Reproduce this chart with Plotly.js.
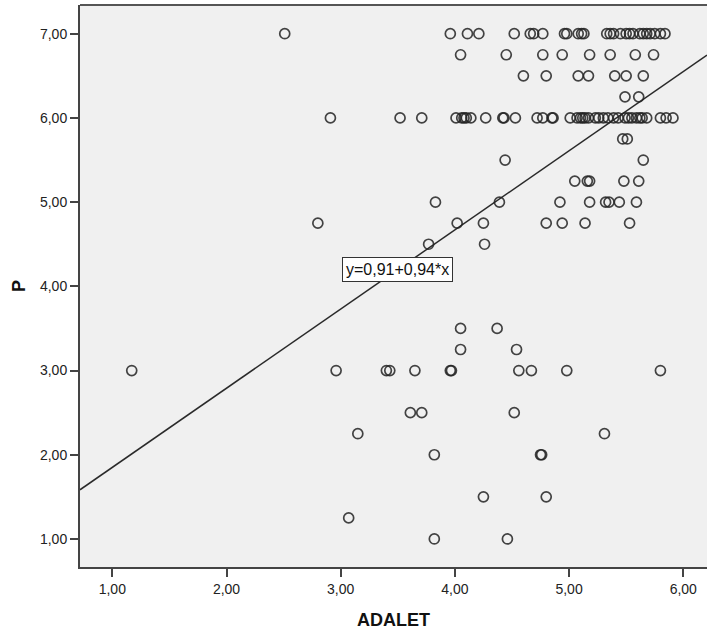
<!DOCTYPE html>
<html>
<head>
<meta charset="utf-8">
<script src="https://cdn.plot.ly/plotly-3.0.1.min.js"></script>
<style>html,body{margin:0;padding:0;background:#fff;overflow:hidden}#chart{width:707px;height:633px}</style>
</head>
<body>
<div id="chart"></div>
<script>
// ADALET values observed at each P level
const pLevels = [7.00, 6.75, 6.50, 6.25, 6.00, 5.75, 5.50, 5.25, 5.00, 4.75, 4.50, 3.50, 3.25, 3.00, 2.50, 2.25, 2.00, 1.50, 1.25, 1.00];
const adaletP700 = [2.51, 3.96, 4.11, 4.21, 4.52, 4.66, 4.69, 4.77, 4.96, 4.98, 5.08, 5.11, 5.13, 5.33, 5.36, 5.39, 5.45, 5.50, 5.53, 5.56, 5.62, 5.65, 5.68, 5.71, 5.75, 5.80, 5.84];
const adaletP675 = [4.05, 4.45, 4.77, 4.94, 5.18, 5.36, 5.58, 5.74];
const adaletP650 = [4.60, 4.80, 5.08, 5.17, 5.40, 5.50, 5.65];
const adaletP625 = [5.49, 5.61];
const adaletP600 = [2.91, 3.52, 3.71, 4.01, 4.06, 4.08, 4.10, 4.14, 4.27, 4.42, 4.43, 4.53, 4.72, 4.77, 4.85, 4.86, 5.01, 5.07, 5.10, 5.12, 5.14, 5.17, 5.23, 5.26, 5.30, 5.34, 5.39, 5.43, 5.49, 5.52, 5.55, 5.59, 5.62, 5.64, 5.68, 5.80, 5.85, 5.91];
const adaletP575 = [5.47, 5.51];
const adaletP550 = [4.44, 5.65];
const adaletP525 = [5.05, 5.16, 5.18, 5.48, 5.61];
const adaletP500 = [3.83, 4.39, 4.92, 5.18, 5.32, 5.35, 5.44, 5.59];
const adaletP475 = [2.80, 4.02, 4.25, 4.80, 4.94, 5.14, 5.53];
const adaletP450 = [3.77, 4.26];
const adaletP350 = [4.05, 4.37];
const adaletP325 = [4.05, 4.54];
const adaletP300 = [1.17, 2.96, 3.40, 3.43, 3.65, 3.96, 3.97, 4.56, 4.67, 4.98, 5.80];
const adaletP250 = [3.61, 3.71, 4.52];
const adaletP225 = [3.15, 5.31];
const adaletP200 = [3.82, 4.75, 4.76];
const adaletP150 = [4.25, 4.80];
const adaletP125 = [3.07];
const adaletP100 = [3.82, 4.46];
const adaletByLevel = [adaletP700, adaletP675, adaletP650, adaletP625, adaletP600, adaletP575, adaletP550, adaletP525, adaletP500, adaletP475, adaletP450, adaletP350, adaletP325, adaletP300, adaletP250, adaletP225, adaletP200, adaletP150, adaletP125, adaletP100];

// Fit line
const intercept = 0.91;
const slope = 0.94;
const fitLabel = "y=0,91+0,94*x";

// Tick labels
const xTickVals = [1, 2, 3, 4, 5, 6];
const xTickText = ["1,00", "2,00", "3,00", "4,00", "5,00", "6,00"];
const yTickVals = [1, 2, 3, 4, 5, 6, 7];
const yTickText = ["1,00", "2,00", "3,00", "4,00", "5,00", "6,00", "7,00"];

const xRange = [0.717, 6.208];
const yRange = [0.667, 7.341];

const xs = [], ys = [];
adaletByLevel.forEach((arr, i) => arr.forEach(v => { xs.push(v); ys.push(pLevels[i]); }));

const lineX = [xRange[0], xRange[1]];
const lineY = lineX.map(x => intercept + slope * x);

const font = '"Liberation Sans", Arial, sans-serif';
const axisColor = '#444';

const traces = [
  {x: lineX, y: lineY, mode: 'lines', type: 'scatter', line: {color: '#2a2a2a', width: 1.5}, hoverinfo: 'skip', showlegend: false},
  {x: xs, y: ys, mode: 'markers', type: 'scatter', showlegend: false,
   marker: {symbol: 'circle-open', size: 10, color: 'rgba(35,35,35,0.85)', line: {width: 1.7, color: 'rgba(35,35,35,0.85)'}}}
];

const layout = {
  width: 707, height: 633,
  margin: {l: 80, r: 0, t: 5, b: 66},
  paper_bgcolor: '#ffffff',
  plot_bgcolor: '#f0f0f0',
  showlegend: false,
  font: {family: font, color: '#222'},
  xaxis: {
    range: xRange, tickvals: xTickVals, ticktext: xTickText,
    showgrid: false, zeroline: false, showline: true, linecolor: axisColor, linewidth: 2,
    ticks: 'outside', ticklen: 8, tickwidth: 2, tickcolor: axisColor,
    tickfont: {family: font, size: 14, color: '#222'},
    title: {text: 'ADALET', font: {family: font, size: 18, color: '#111', weight: 'bold'}, standoff: 18}
  },
  yaxis: {
    range: yRange, tickvals: yTickVals, ticktext: yTickText,
    showgrid: false, zeroline: false, showline: true, linecolor: axisColor, linewidth: 2,
    ticks: 'outside', ticklen: 8, tickwidth: 2, tickcolor: axisColor,
    tickfont: {family: font, size: 14, color: '#222'},
    title: {text: 'P', font: {family: font, size: 18, color: '#111', weight: 'bold'}, standoff: 10}
  },
  shapes: [
    {type: 'line', xref: 'paper', yref: 'paper', x0: 0, x1: 1, y0: 1, y1: 1, line: {color: '#555', width: 2}}
  ],
  annotations: [
    {x: 3.497, y: 4.202, xref: 'x', yref: 'y', text: fitLabel, showarrow: false,
     font: {family: font, size: 16, color: '#111'}, bgcolor: '#ffffff', bordercolor: '#333', borderwidth: 1, borderpad: 3}
  ]
};

Plotly.newPlot('chart', traces, layout, {displayModeBar: false, staticPlot: true});
</script>
</body>
</html>
